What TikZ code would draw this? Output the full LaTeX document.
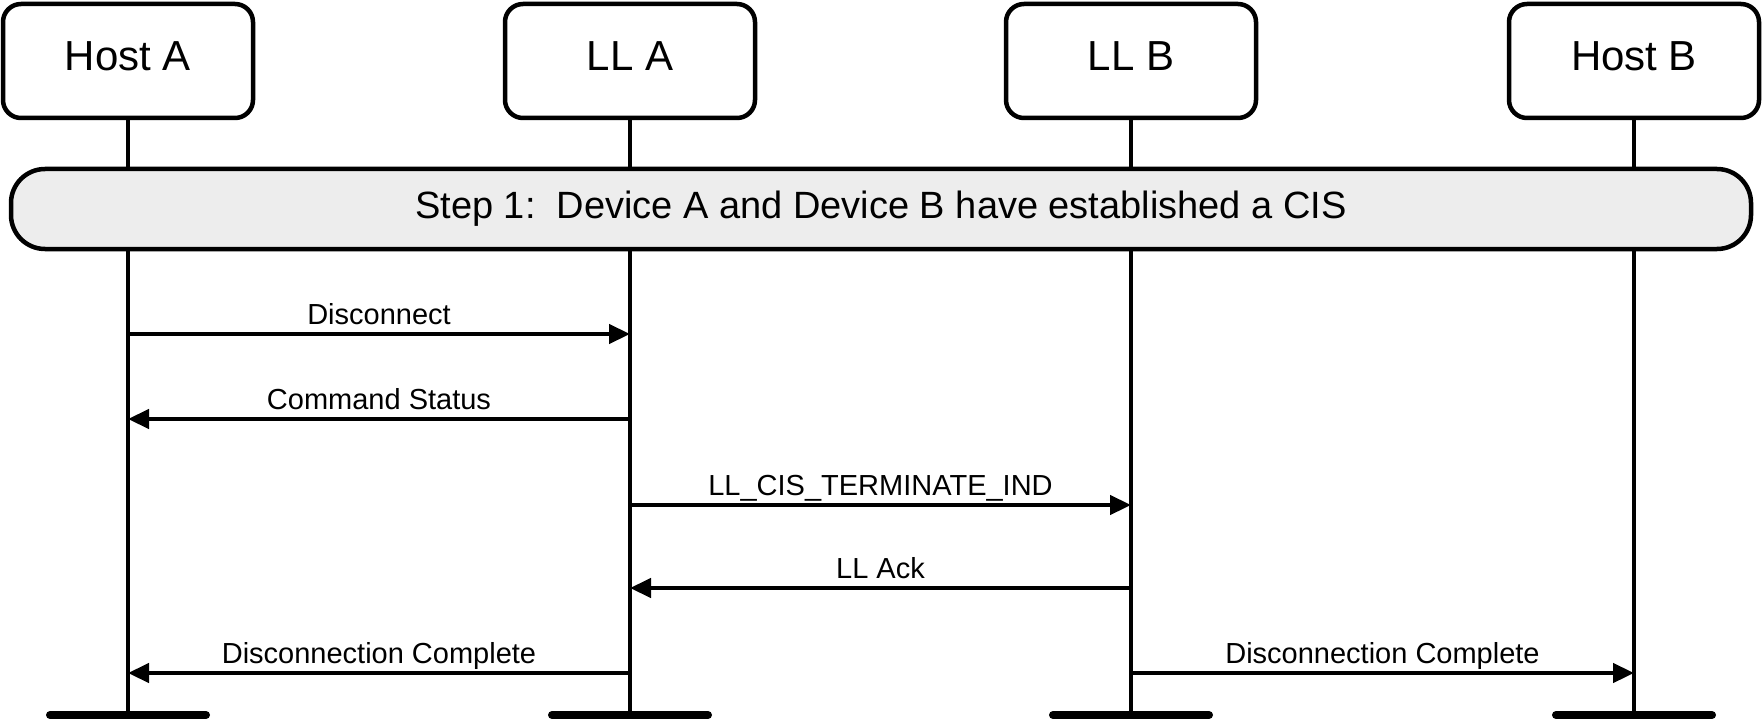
\documentclass[tikz,border=0pt]{standalone}
\usepackage{fontspec}
\setmainfont{Liberation Sans}
\usetikzlibrary{arrows.meta}
\definecolor{stepgray}{HTML}{EDEDED}
\tikzset{
  entity/.style={draw, line width=4.5pt, rounded corners=18pt, fill=white,
    minimum width=250pt, minimum height=114pt, inner sep=0pt,
    text depth=10pt, font=\fontsize{42}{50}\selectfont},
  lifeline/.style={line width=4.5pt},
  stepbar/.style={draw, line width=4.5pt, rounded corners=34pt, fill=stepgray,
    minimum width=1740pt, minimum height=80pt, inner sep=0pt,
    font=\fontsize{38}{46}\selectfont},
  msg/.style={line width=4.5pt, -{Triangle[length=21pt,width=19pt]}},
  msglabel/.style={anchor=base, yshift=10pt, inner sep=0pt,
    font=\fontsize{29}{35}\selectfont},
  endbar/.style={line width=8pt, line cap=round}
}

\begin{document}
\begin{tikzpicture}[x=1pt,y=-1pt]
\useasboundingbox (0,0) rectangle (1763,722);
% Drawing lifelines
\coordinate (hostAend) at (128,715);
\coordinate (llAend) at (630,715);
\coordinate (llBend) at (1131,715);
\coordinate (hostBend) at (1634,715);
\draw[lifeline] (128,61) -- (hostAend);
\draw[lifeline] (630,61) -- (llAend);
\draw[lifeline] (1131,61) -- (llBend);
\draw[lifeline] (1634,61) -- (hostBend);
\draw[endbar] ([xshift=-78pt]hostAend) -- ([xshift=78pt]hostAend);
\draw[endbar] ([xshift=-78pt]llAend) -- ([xshift=78pt]llAend);
\draw[endbar] ([xshift=-78pt]llBend) -- ([xshift=78pt]llBend);
\draw[endbar] ([xshift=-78pt]hostBend) -- ([xshift=78pt]hostBend);
% Done with lifelines; drawing entities
\node[entity] (hostA) at (128,61) {Host A};
\node[entity] (llA) at (630,61) {LL A};
\node[entity] (llB) at (1131,61) {LL B};
\node[entity] (hostB) at (1634,61) {Host B};
% Step 1
\node[stepbar] (step) at (881,209) {Step 1:\ \ Device A and Device B have established a CIS};
% Drawing messages
\coordinate (hostA-1) at (128,334);
\coordinate (llA-1) at (630,334);
\draw[msg] (hostA-1) -- node[msglabel] {Disconnect} (llA-1);
\coordinate (llA-2) at (630,419);
\coordinate (hostA-2) at (128,419);
\draw[msg] (llA-2) -- node[msglabel] {Command Status} (hostA-2);
\coordinate (llA-3) at (630,505);
\coordinate (llB-3) at (1131,505);
\draw[msg] (llA-3) -- node[msglabel] {LL\_CIS\_TERMINATE\_IND} (llB-3);
\coordinate (llB-4) at (1131,588);
\coordinate (llA-4) at (630,588);
\draw[msg] (llB-4) -- node[msglabel] {LL Ack} (llA-4);
\coordinate (llA-5) at (630,673);
\coordinate (hostA-5) at (128,673);
\draw[msg] (llA-5) -- node[msglabel] {Disconnection Complete} (hostA-5);
\coordinate (llB-5) at (1131,673);
\coordinate (hostB-5) at (1634,673);
\draw[msg] (llB-5) -- node[msglabel] {Disconnection Complete} (hostB-5);
% Done with messages
\end{tikzpicture}
\end{document}
